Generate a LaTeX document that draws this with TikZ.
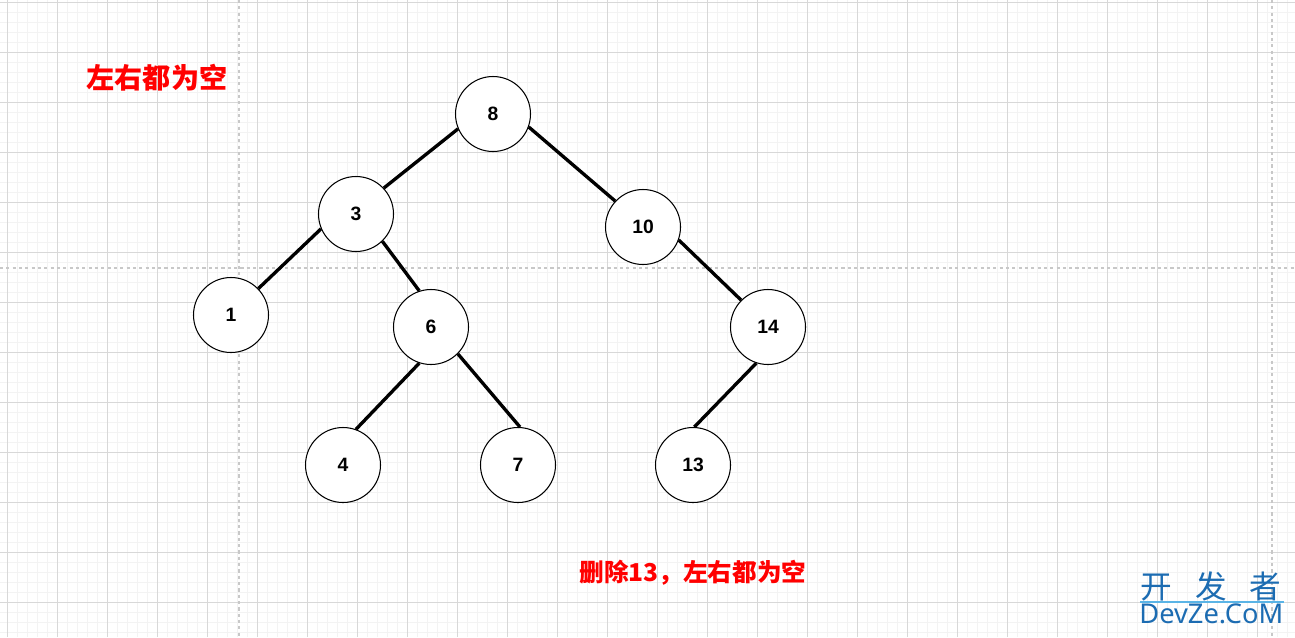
\documentclass[tikz,border=0pt]{standalone}
\usepackage{fontspec}
\setmainfont{Liberation Sans}
\newfontfamily\cjk{Noto Sans CJK SC}
\newfontfamily\wmfont{Noto Sans}
\usetikzlibrary{positioning}
\definecolor{gridminor}{RGB}{243,243,243}
\definecolor{gridmajor}{RGB}{216,216,216}
\definecolor{pageline}{RGB}{200,200,200}
\definecolor{wmblue}{RGB}{28,108,178}
\definecolor{wmline}{RGB}{90,180,230}
\tikzset{
  treenode/.style={circle, draw, line width=0.6pt, fill=white, minimum size=1.5cm,
    inner sep=0pt, font=\fontsize{11}{13}\selectfont\bfseries},
  treeedge/.style={line width=1.9pt},
  notelabel/.style={text=red, inner sep=0pt},
  minorgrid/.style={gridminor, line width=0.5pt},
  majorgrid/.style={gridmajor, line width=0.5pt},
  pageedge/.style={pageline, line width=0.6pt, dash pattern=on 1.8pt off 1.8pt},
}

\begin{document}
\begin{tikzpicture}[x=0.2mm, y=-0.2mm]
  \useasboundingbox (0,0) rectangle (1295,637);
  \fill[white] (0,0) rectangle (1295,637);
  % grid
  \foreach \gx in {7,17,...,1287} \draw[minorgrid] (\gx,0) -- (\gx,637);
  \foreach \gy in {2,12,...,632} \draw[minorgrid] (0,\gy) -- (1295,\gy);
  \foreach \gx in {7,57,...,1257} \draw[majorgrid] (\gx,0) -- (\gx,637);
  \foreach \gy in {2,52,...,602} \draw[majorgrid] (0,\gy) -- (1295,\gy);
  % page edges
  \draw[pageedge] (239,0) -- (239,637);
  \draw[pageedge] (1272,0) -- (1272,637);
  \draw[pageedge] (0,268) -- (1295,268);
  % tree
  \node[treenode] (n8) at (493,114) {8};
  \node[treenode] (n3) at (356,214) {3};
  \node[treenode] (n10) at (643,227) {10};
  \node[treenode] (n1) at (231,315) {1};
  \node[treenode] (n6) at (431,327) {6};
  \node[treenode] (n14) at (768,327) {14};
  \node[treenode] (n4) at (343,465) {4};
  \node[treenode] (n7) at (518,465) {7};
  \node[treenode] (n13) at (693,465) {13};
  \draw[treeedge] (n8.203) -- (n3.43);
  \draw[treeedge] (n8.340) -- (n10.137);
  \draw[treeedge] (n3.203) -- (n1.44);
  \draw[treeedge] (n3.314) -- (n6.108);
  \draw[treeedge] (n10.340) -- (n14.135);
  \draw[treeedge] (n6.252) -- (n4.70);
  \draw[treeedge] (n6.315) -- (n7.87);
  \draw[treeedge] (n14.252) -- (n13.88);
  % notes
  \node[notelabel, font=\cjk\bfseries\fontsize{16}{18}\selectfont] (note1) at (157,78) {左右都为空};
  \node[notelabel, font=\cjk\bfseries\fontsize{14}{16}\selectfont] (note2) at (693,573) {删除13，左右都为空};
  % watermark
  \node[text=wmblue, inner sep=0pt, font=\cjk\fontsize{18}{20}\selectfont] (wmcn) at (1211,586) {开\hspace{13pt}发\hspace{13pt}者};
  \node[text=wmblue, inner sep=0pt, anchor=base west, font=\wmfont\fontsize{15.5}{17}\selectfont] (wmen) at (1139,623) {DevZe.CoM};
  \draw[wmline, line width=0.6pt] (1140,602) -- (1284,602);
\end{tikzpicture}
\end{document}
